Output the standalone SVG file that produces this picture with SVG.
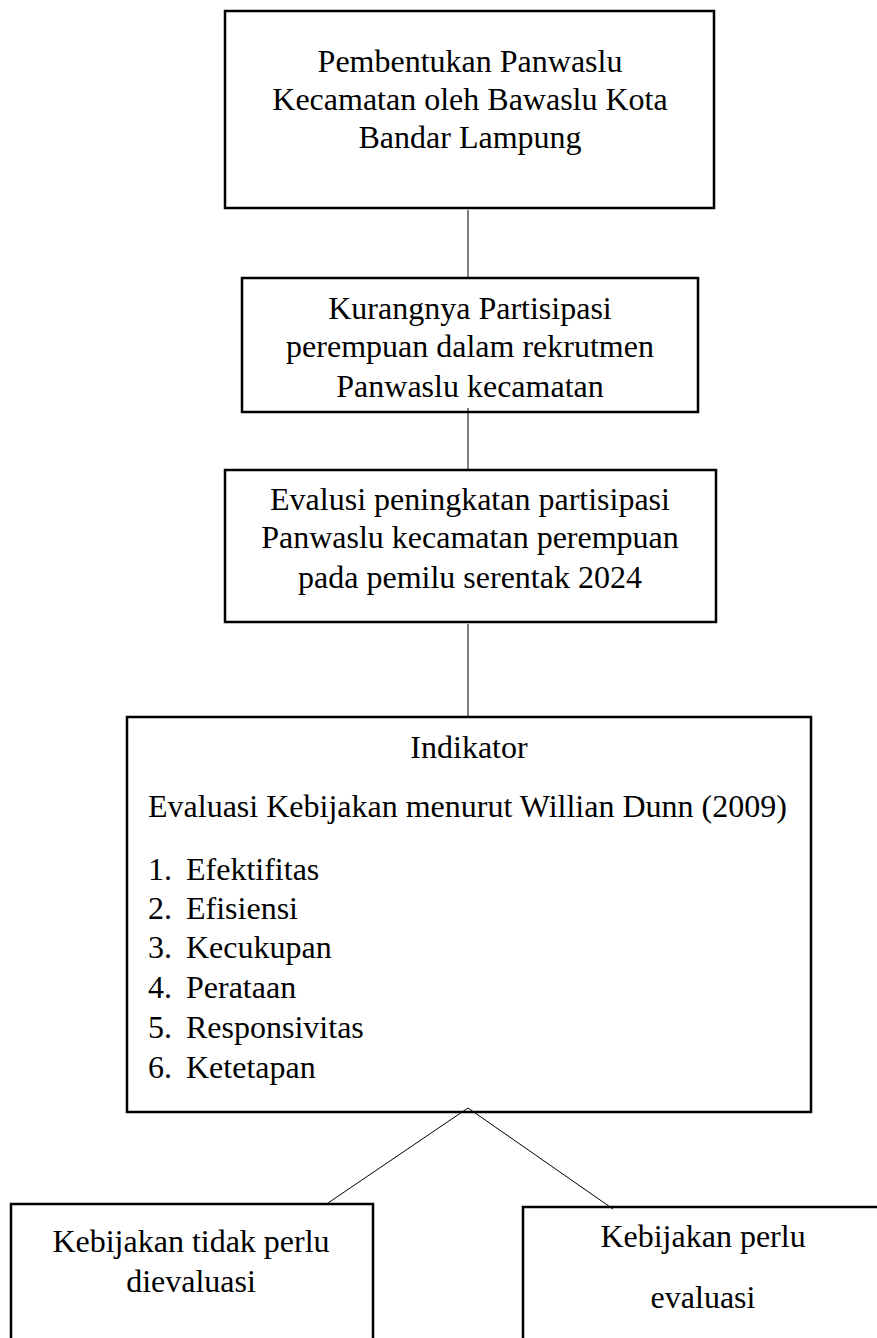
<svg xmlns="http://www.w3.org/2000/svg" width="877" height="1338" viewBox="0 0 877 1338">
<style>
.box{fill:#fff;stroke:#000;stroke-width:2.5}
.t{font-family:"Liberation Serif","Times New Roman",serif;font-size:32px;fill:#000}
.c{text-anchor:middle}
.conn{stroke:#000;stroke-width:1;fill:none}
</style>
<rect x="0" y="0" width="877" height="1338" fill="#fff"/>
<g id="node1">
<rect class="box" x="225" y="11" width="489" height="197"/>
<text class="t c" x="470" y="72">Pembentukan Panwaslu</text>
<text class="t c" x="470" y="110">Kecamatan oleh Bawaslu Kota</text>
<text class="t c" x="470" y="148">Bandar Lampung</text>
</g>
<g id="node2">
<rect class="box" x="242" y="278" width="456" height="134"/>
<text class="t c" x="470" y="319">Kurangnya Partisipasi</text>
<text class="t c" x="470" y="357">perempuan dalam rekrutmen</text>
<text class="t c" x="470" y="397">Panwaslu kecamatan</text>
</g>
<g id="node3">
<rect class="box" x="225" y="470" width="491" height="152"/>
<text class="t c" x="470" y="510">Evalusi peningkatan partisipasi</text>
<text class="t c" x="470" y="548">Panwaslu kecamatan perempuan</text>
<text class="t c" x="470" y="588">pada pemilu serentak 2024</text>
</g>
<g id="node4">
<rect class="box" x="127" y="717" width="684" height="395"/>
<text class="t c" x="469" y="758">Indikator</text>
<text class="t" x="148" y="817">Evaluasi Kebijakan menurut Willian Dunn (2009)</text>
<text class="t" x="148" y="880">1.</text><text class="t" x="186" y="880">Efektifitas</text>
<text class="t" x="148" y="919">2.</text><text class="t" x="186" y="919">Efisiensi</text>
<text class="t" x="148" y="958">3.</text><text class="t" x="186" y="958">Kecukupan</text>
<text class="t" x="148" y="998">4.</text><text class="t" x="186" y="998">Perataan</text>
<text class="t" x="148" y="1038">5.</text><text class="t" x="186" y="1038">Responsivitas</text>
<text class="t" x="148" y="1078">6.</text><text class="t" x="186" y="1078">Ketetapan</text>
</g>
<g id="node5">
<rect class="box" x="11" y="1204" width="362" height="150"/>
<text class="t c" x="191" y="1252">Kebijakan tidak perlu</text>
<text class="t c" x="191" y="1292">dievaluasi</text>
</g>
<g id="node6">
<rect class="box" x="523" y="1207" width="370" height="150"/>
<text class="t c" x="703" y="1247">Kebijakan perlu</text>
<text class="t c" x="703" y="1308">evaluasi</text>
</g>
<g id="connectors">
<line class="conn" x1="468" y1="210" x2="468" y2="277"/>
<line class="conn" x1="468" y1="408" x2="468" y2="469"/>
<line class="conn" x1="468" y1="624" x2="468" y2="716"/>
<polyline class="conn" points="328,1203 468,1108 613,1209"/>
</g>
</svg>
